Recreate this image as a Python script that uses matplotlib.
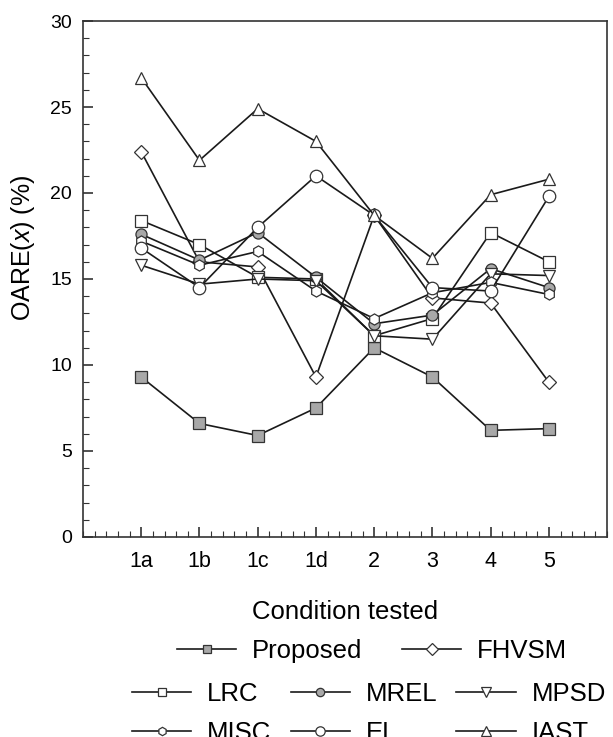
import numpy as np
import matplotlib
matplotlib.use('Agg')
import matplotlib.pyplot as plt
from matplotlib.ticker import MultipleLocator

plt.rcParams['font.family'] = ['Liberation Sans', 'DejaVu Sans']
plt.rcParams['mathtext.fontset'] = 'custom'
plt.rcParams['mathtext.it'] = 'Liberation Sans:italic'
plt.rcParams['mathtext.rm'] = 'Liberation Sans'

conditions = ['1a', '1b', '1c', '1d', '2', '3', '4', '5']

proposed = [9.3, 6.6, 5.9, 7.5, 11.0, 9.3, 6.2, 6.3]
fhvsm = [22.4, 16.0, 15.7, 9.3, 18.7, 13.9, 13.6, 9.0]
lrc = [18.4, 17.0, 15.1, 15.0, 11.7, 12.7, 17.7, 16.0]
mrel = [17.6, 16.1, 17.7, 15.1, 12.4, 12.9, 15.6, 14.5]
mpsd = [15.8, 14.7, 15.0, 14.9, 11.7, 11.5, 15.3, 15.2]
misc = [17.2, 15.8, 16.6, 14.3, 12.7, 14.2, 14.8, 14.1]
el = [16.8, 14.5, 18.0, 21.0, 18.7, 14.5, 14.3, 19.8]
iast = [26.7, 21.9, 24.9, 23.0, 18.7, 16.2, 19.9, 20.8]

x = np.arange(1, len(conditions) + 1)
gray = '#a8a8a8'
lc = '#1a1a1a'

fig = plt.figure(figsize=(6.13, 7.37), dpi=100)
ax = fig.add_axes([0.1354, 0.2714, 0.855, 0.7001])

kw = dict(color=lc, lw=1.2, ms=8, mew=0.9, mec='#333333')
h_prop, = ax.plot(x, proposed, marker='s', mfc=gray, label='Proposed', **kw)
h_fhv, = ax.plot(x, fhvsm, marker='D', mfc='white', label='FHVSM', **dict(kw, ms=7.5))
h_lrc, = ax.plot(x, lrc, marker='s', mfc='white', label='LRC', **kw)
h_mrel, = ax.plot(x, mrel, marker='o', mfc=gray, label='MREL', **kw)
h_mpsd, = ax.plot(x, mpsd, marker='v', mfc='white', label='MPSD', **dict(kw, ms=9))
h_misc, = ax.plot(x, misc, marker='h', mfc='white', label='MISC', **kw)
h_el, = ax.plot(x, el, marker='o', mfc='white', label='EL', **dict(kw, ms=9))
h_iast, = ax.plot(x, iast, marker='^', mfc='white', label='IAST', **dict(kw, ms=9))

ax.set_xlim(0, 9)
ax.set_ylim(0, 30)
ax.set_xticks(x)
ax.set_xticklabels(conditions)
ax.xaxis.set_minor_locator(MultipleLocator(0.2))
ax.yaxis.set_major_locator(MultipleLocator(5))
ax.yaxis.set_minor_locator(MultipleLocator(1))
ax.tick_params(which='both', direction='in', top=False, right=False, color='#333333')
ax.tick_params(which='major', length=7, width=1.2)
ax.tick_params(which='minor', length=4, width=0.8)
ax.tick_params(axis='y', labelsize=14, pad=8)
ax.tick_params(axis='x', labelsize=15.5, pad=10)
for s in ax.spines.values():
    s.set_color('#333333')
    s.set_linewidth(1.2)

ax.set_xlabel('Condition tested', fontsize=18.5, labelpad=20)
ax.set_ylabel(r'OARE($\it{x}$) (%)', fontsize=18)
ax.yaxis.set_label_coords(-0.088, 0.56)

lkw = dict(frameon=False, fontsize=18.5, handlelength=2.3, handletextpad=0.62,
           markerscale=0.75, borderpad=0, borderaxespad=0)
fig.legend(handles=[h_prop, h_fhv], ncol=2, loc='center left',
           bbox_to_anchor=(177 / 613, 1 - 651 / 737), columnspacing=1.55, **lkw)
fig.legend(handles=[h_lrc, h_misc, h_mrel, h_el, h_mpsd, h_iast], ncol=3,
           loc='upper left', bbox_to_anchor=(132 / 613, 1 - 682 / 737),
           columnspacing=0.75, labelspacing=0.57, **lkw)

fig.savefig('out.png', dpi=100)
